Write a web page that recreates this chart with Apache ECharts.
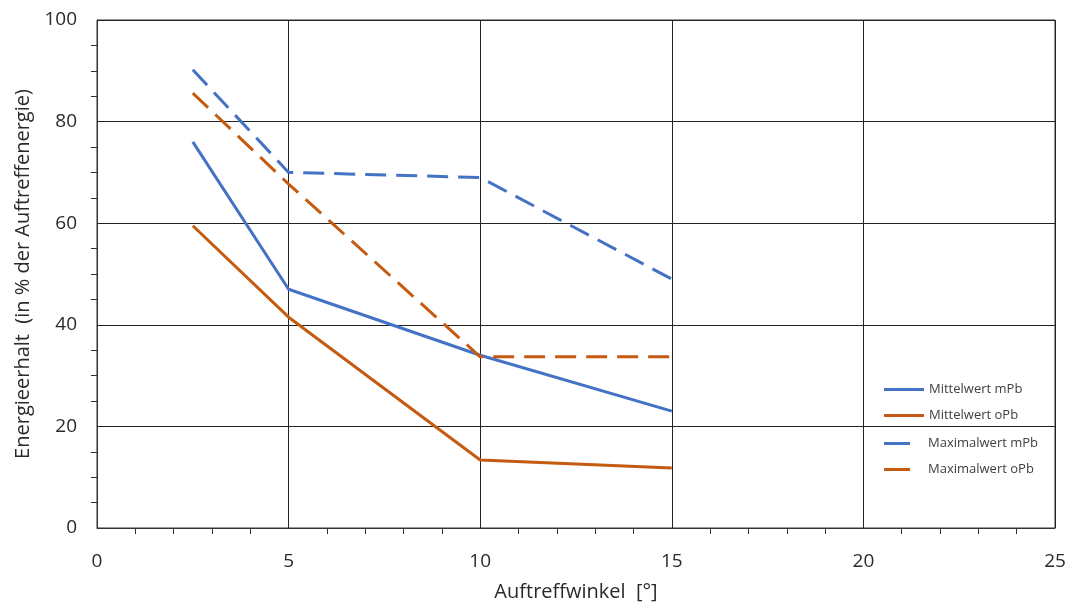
<!DOCTYPE html>
<html><head><meta charset="utf-8">
<script src="https://cdn.jsdelivr.net/npm/echarts@6/dist/echarts.min.js"></script>
<style>html,body{margin:0;padding:0;background:#fff}#c{width:1077px;height:608px}</style>
</head><body><div id="c"></div>
<script>
const angles = [2.5, 5, 10, 15];
const mittelMPb = [76, 47, 34, 23];
const mittelOPb = [59.5, 41.5, 13.4, 11.8];
const maxMPb = [90.2, 70, 69, 49];
const maxOPb = [85.6, 67.7, 33.7, 33.7];
const xTicks = [0, 5, 10, 15, 20, 25];
const yTicks = [0, 20, 40, 60, 80, 100];
const names = ['Mittelwert mPb', 'Mittelwert oPb', 'Maximalwert mPb', 'Maximalwert oPb'];

const BLUE = '#4472C4', ORANGE = '#C55A11';
const FONT = 'Open Sans';
const pair = a => angles.map((x, i) => [x, a[i]]);
function ser(name, data, color, dashed) {
  return {
    name, type: 'line', data: pair(data), symbol: 'none', showSymbol: false,
    lineStyle: { color, width: 3, type: dashed ? [21, 10] : 'solid', cap: 'butt' },
    itemStyle: { color }, z: 3
  };
}
const chart = echarts.init(document.getElementById('c'));
chart.setOption({
  animation: false,
  textStyle: { fontFamily: FONT },
  grid: { left: 97, right: 22, top: 20, bottom: 80, show: true, borderColor: '#333', borderWidth: 1 },
  xAxis: {
    type: 'value', min: xTicks[0], max: xTicks[xTicks.length - 1], interval: 5,
    name: 'Auftreffwinkel  [°]', nameLocation: 'middle', nameGap: 54,
    nameTextStyle: { fontSize: 20, color: '#2a2a2a', fontFamily: FONT },
    axisLine: { lineStyle: { color: '#333' } },
    axisTick: { show: false },
    minorTick: { show: true, splitNumber: 5, length: 6, lineStyle: { color: '#333' } },
    axisLabel: { fontSize: 19, color: '#2a2a2a', margin: 24, fontFamily: FONT },
    splitLine: { show: true, lineStyle: { color: '#222', width: 1 } }
  },
  yAxis: {
    type: 'value', min: yTicks[0], max: yTicks[yTicks.length - 1], interval: 20,
    name: 'Energieerhalt  (in % der Auftreffenergie)', nameLocation: 'middle', nameGap: 64,
    nameTextStyle: { fontSize: 20, color: '#2a2a2a', fontFamily: FONT },
    axisLine: { lineStyle: { color: '#333' } },
    axisTick: { show: false },
    minorTick: { show: true, splitNumber: 4, length: 6, lineStyle: { color: '#333' } },
    axisLabel: { fontSize: 19, color: '#2a2a2a', margin: 20, fontFamily: FONT },
    splitLine: { show: true, lineStyle: { color: '#222', width: 1 } }
  },
  legend: [
    { data: names.slice(0, 2), orient: 'vertical', left: 879, top: 378, itemWidth: 40, itemHeight: 14, itemGap: 13,
      icon: 'path://M0,0H40V3H0Z',
      textStyle: { fontSize: 13, color: '#404040', fontFamily: FONT } },
    { data: names.slice(2), orient: 'vertical', left: 879, top: 432, itemWidth: 26, itemHeight: 14, itemGap: 13,
      icon: 'path://M0,0H26V3H0Z',
      textStyle: { fontSize: 13, color: '#404040', fontFamily: FONT, padding: [0, 0, 0, 13] } }
  ],
  series: [
    ser(names[0], mittelMPb, BLUE, false),
    ser(names[1], mittelOPb, ORANGE, false),
    ser(names[2], maxMPb, BLUE, true),
    ser(names[3], maxOPb, ORANGE, true)
  ]
});
</script></body></html>
